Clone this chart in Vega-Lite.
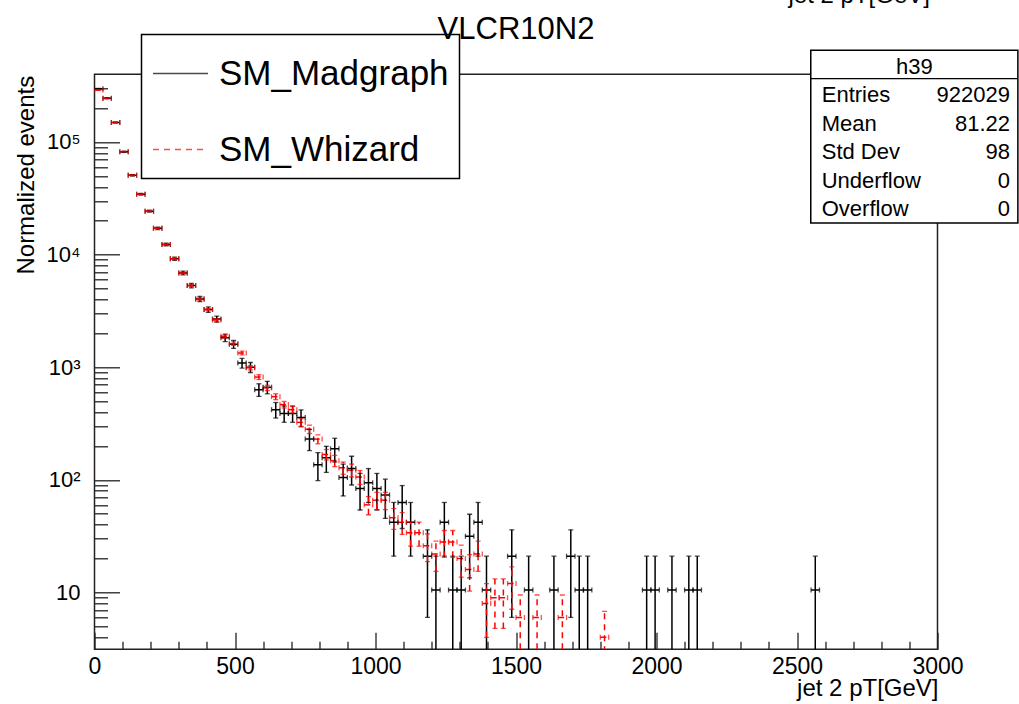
{
  "$schema": "https://vega.github.io/schema/vega-lite/v6.json",
  "autosize": {"type": "none"},
  "width": 843,
  "height": 575,
  "padding": {"left": 94.5, "top": 74.3, "right": 81.5, "bottom": 54.7},
  "background": "white",
  "title": {"text": "VLCR10N2", "fontSize": 31, "font": "Liberation Sans", "fontWeight": "normal", "color": "#000", "anchor": "middle", "frame": "group", "baseline": "alphabetic", "offset": -86.2},
  "config": {
    "view": {"stroke": "#222", "strokeWidth": 1.5},
    "axis": {"domain": false, "grid": false, "labelFont": "Liberation Sans", "titleFont": "Liberation Sans", "labelColor": "#000", "titleColor": "#000", "titleFontWeight": "normal", "tickColor": "#222", "tickWidth": 1.3},
    "legend": {"strokeWidth": 1.5},
    "text": {"font": "Liberation Sans", "color": "#000"}
  },
  "resolve": {"axis": {"x": "independent"}},
  "datasets": {
    "h": [
      {"s": "SM_Madgraph", "x0": 0, "x1": 30, "xc": 15, "v": 297000, "lo": 295234, "hi": 298766},
      {"s": "SM_Madgraph", "x0": 30, "x1": 60, "xc": 45, "v": 245000, "lo": 243396, "hi": 246604},
      {"s": "SM_Madgraph", "x0": 60, "x1": 90, "xc": 75, "v": 149000, "lo": 147749, "hi": 150251},
      {"s": "SM_Madgraph", "x0": 90, "x1": 120, "xc": 105, "v": 82000, "lo": 81072, "hi": 82928},
      {"s": "SM_Madgraph", "x0": 120, "x1": 150, "xc": 135, "v": 50600, "lo": 49871, "hi": 51329},
      {"s": "SM_Madgraph", "x0": 150, "x1": 180, "xc": 165, "v": 34400, "lo": 33799, "hi": 35001},
      {"s": "SM_Madgraph", "x0": 180, "x1": 210, "xc": 195, "v": 24300, "lo": 23795, "hi": 24805},
      {"s": "SM_Madgraph", "x0": 210, "x1": 240, "xc": 225, "v": 17100, "lo": 16676, "hi": 17524},
      {"s": "SM_Madgraph", "x0": 240, "x1": 270, "xc": 255, "v": 12300, "lo": 11941, "hi": 12659},
      {"s": "SM_Madgraph", "x0": 270, "x1": 300, "xc": 285, "v": 9200, "lo": 8889, "hi": 9511},
      {"s": "SM_Madgraph", "x0": 300, "x1": 330, "xc": 315, "v": 6870, "lo": 6601, "hi": 7139},
      {"s": "SM_Madgraph", "x0": 330, "x1": 360, "xc": 345, "v": 5310, "lo": 5074, "hi": 5546},
      {"s": "SM_Madgraph", "x0": 360, "x1": 390, "xc": 375, "v": 4040, "lo": 3834, "hi": 4246},
      {"s": "SM_Madgraph", "x0": 390, "x1": 420, "xc": 405, "v": 3250, "lo": 3065, "hi": 3435},
      {"s": "SM_Madgraph", "x0": 420, "x1": 450, "xc": 435, "v": 2680, "lo": 2512, "hi": 2848},
      {"s": "SM_Madgraph", "x0": 450, "x1": 480, "xc": 465, "v": 1830, "lo": 1691, "hi": 1969},
      {"s": "SM_Madgraph", "x0": 480, "x1": 510, "xc": 495, "v": 1600, "lo": 1470, "hi": 1730},
      {"s": "SM_Madgraph", "x0": 510, "x1": 540, "xc": 525, "v": 1090, "lo": 983, "hi": 1197},
      {"s": "SM_Madgraph", "x0": 540, "x1": 570, "xc": 555, "v": 1000, "lo": 898, "hi": 1102},
      {"s": "SM_Madgraph", "x0": 570, "x1": 600, "xc": 585, "v": 632, "lo": 551, "hi": 713},
      {"s": "SM_Madgraph", "x0": 600, "x1": 630, "xc": 615, "v": 665, "lo": 581, "hi": 749},
      {"s": "SM_Madgraph", "x0": 630, "x1": 660, "xc": 645, "v": 420, "lo": 354, "hi": 486},
      {"s": "SM_Madgraph", "x0": 660, "x1": 690, "xc": 675, "v": 388.5, "lo": 324.5, "hi": 452.5},
      {"s": "SM_Madgraph", "x0": 690, "x1": 720, "xc": 705, "v": 388.5, "lo": 324.5, "hi": 452.5},
      {"s": "SM_Madgraph", "x0": 720, "x1": 750, "xc": 735, "v": 357, "lo": 296, "hi": 418},
      {"s": "SM_Madgraph", "x0": 750, "x1": 780, "xc": 765, "v": 231, "lo": 182, "hi": 280},
      {"s": "SM_Madgraph", "x0": 780, "x1": 810, "xc": 795, "v": 136.5, "lo": 98.5, "hi": 174.5},
      {"s": "SM_Madgraph", "x0": 810, "x1": 840, "xc": 825, "v": 157.5, "lo": 116.5, "hi": 198.5},
      {"s": "SM_Madgraph", "x0": 840, "x1": 870, "xc": 855, "v": 189, "lo": 144, "hi": 234},
      {"s": "SM_Madgraph", "x0": 870, "x1": 900, "xc": 885, "v": 105, "lo": 72, "hi": 138},
      {"s": "SM_Madgraph", "x0": 900, "x1": 930, "xc": 915, "v": 126, "lo": 90, "hi": 162},
      {"s": "SM_Madgraph", "x0": 930, "x1": 960, "xc": 945, "v": 84, "lo": 54, "hi": 114},
      {"s": "SM_Madgraph", "x0": 960, "x1": 990, "xc": 975, "v": 94.5, "lo": 63, "hi": 126},
      {"s": "SM_Madgraph", "x0": 990, "x1": 1020, "xc": 1005, "v": 84, "lo": 54, "hi": 114},
      {"s": "SM_Madgraph", "x0": 1020, "x1": 1050, "xc": 1035, "v": 73.5, "lo": 45.5, "hi": 101.5},
      {"s": "SM_Madgraph", "x0": 1050, "x1": 1080, "xc": 1065, "v": 42, "lo": 21, "hi": 63},
      {"s": "SM_Madgraph", "x0": 1080, "x1": 1110, "xc": 1095, "v": 63, "lo": 37, "hi": 89},
      {"s": "SM_Madgraph", "x0": 1110, "x1": 1140, "xc": 1125, "v": 42, "lo": 21, "hi": 63},
      {"s": "SM_Madgraph", "x0": 1170, "x1": 1200, "xc": 1185, "v": 21, "lo": 6, "hi": 36},
      {"s": "SM_Madgraph", "x0": 1200, "x1": 1230, "xc": 1215, "v": 10.5, "lo": 0.5, "hi": 21},
      {"s": "SM_Madgraph", "x0": 1230, "x1": 1260, "xc": 1245, "v": 42, "lo": 21, "hi": 63},
      {"s": "SM_Madgraph", "x0": 1260, "x1": 1290, "xc": 1275, "v": 10.5, "lo": 0.5, "hi": 21},
      {"s": "SM_Madgraph", "x0": 1290, "x1": 1320, "xc": 1305, "v": 10.5, "lo": 0.5, "hi": 21},
      {"s": "SM_Madgraph", "x0": 1320, "x1": 1350, "xc": 1335, "v": 31.5, "lo": 13.5, "hi": 49.5},
      {"s": "SM_Madgraph", "x0": 1350, "x1": 1380, "xc": 1365, "v": 42, "lo": 21, "hi": 63},
      {"s": "SM_Madgraph", "x0": 1380, "x1": 1410, "xc": 1395, "v": 10.5, "lo": 0.5, "hi": 21},
      {"s": "SM_Madgraph", "x0": 1470, "x1": 1500, "xc": 1485, "v": 21, "lo": 6, "hi": 36},
      {"s": "SM_Madgraph", "x0": 1530, "x1": 1560, "xc": 1545, "v": 10.5, "lo": 0.5, "hi": 21},
      {"s": "SM_Madgraph", "x0": 1620, "x1": 1650, "xc": 1635, "v": 10.5, "lo": 0.5, "hi": 21},
      {"s": "SM_Madgraph", "x0": 1680, "x1": 1710, "xc": 1695, "v": 21, "lo": 6, "hi": 36},
      {"s": "SM_Madgraph", "x0": 1710, "x1": 1740, "xc": 1725, "v": 10.5, "lo": 0.5, "hi": 21},
      {"s": "SM_Madgraph", "x0": 1740, "x1": 1770, "xc": 1755, "v": 10.5, "lo": 0.5, "hi": 21},
      {"s": "SM_Madgraph", "x0": 1950, "x1": 1980, "xc": 1965, "v": 10.5, "lo": 0.5, "hi": 21},
      {"s": "SM_Madgraph", "x0": 1980, "x1": 2010, "xc": 1995, "v": 10.5, "lo": 0.5, "hi": 21},
      {"s": "SM_Madgraph", "x0": 2040, "x1": 2070, "xc": 2055, "v": 10.5, "lo": 0.5, "hi": 21},
      {"s": "SM_Madgraph", "x0": 2100, "x1": 2130, "xc": 2115, "v": 10.5, "lo": 0.5, "hi": 21},
      {"s": "SM_Madgraph", "x0": 2130, "x1": 2160, "xc": 2145, "v": 10.5, "lo": 0.5, "hi": 21},
      {"s": "SM_Madgraph", "x0": 2550, "x1": 2580, "xc": 2565, "v": 10.5, "lo": 0.5, "hi": 21},
      {"s": "SM_Whizard", "x0": 0, "x1": 30, "xc": 15, "v": 290000, "lo": 289238, "hi": 290762},
      {"s": "SM_Whizard", "x0": 30, "x1": 60, "xc": 45, "v": 243000, "lo": 242303, "hi": 243697},
      {"s": "SM_Whizard", "x0": 60, "x1": 90, "xc": 75, "v": 149000, "lo": 148454, "hi": 149546},
      {"s": "SM_Whizard", "x0": 90, "x1": 120, "xc": 105, "v": 82000, "lo": 81595, "hi": 82405},
      {"s": "SM_Whizard", "x0": 120, "x1": 150, "xc": 135, "v": 50600, "lo": 50282, "hi": 50918},
      {"s": "SM_Whizard", "x0": 150, "x1": 180, "xc": 165, "v": 34400, "lo": 34138, "hi": 34662},
      {"s": "SM_Whizard", "x0": 180, "x1": 210, "xc": 195, "v": 24300, "lo": 24080, "hi": 24520},
      {"s": "SM_Whizard", "x0": 210, "x1": 240, "xc": 225, "v": 17100, "lo": 16915, "hi": 17285},
      {"s": "SM_Whizard", "x0": 240, "x1": 270, "xc": 255, "v": 12300, "lo": 12143, "hi": 12457},
      {"s": "SM_Whizard", "x0": 270, "x1": 300, "xc": 285, "v": 9200, "lo": 9064, "hi": 9336},
      {"s": "SM_Whizard", "x0": 300, "x1": 330, "xc": 315, "v": 6870, "lo": 6753, "hi": 6987},
      {"s": "SM_Whizard", "x0": 330, "x1": 360, "xc": 345, "v": 5310, "lo": 5207, "hi": 5413},
      {"s": "SM_Whizard", "x0": 360, "x1": 390, "xc": 375, "v": 4040, "lo": 3950, "hi": 4130},
      {"s": "SM_Whizard", "x0": 390, "x1": 420, "xc": 405, "v": 3250, "lo": 3169, "hi": 3331},
      {"s": "SM_Whizard", "x0": 420, "x1": 450, "xc": 435, "v": 2620, "lo": 2548, "hi": 2692},
      {"s": "SM_Whizard", "x0": 450, "x1": 480, "xc": 465, "v": 1880, "lo": 1819, "hi": 1941},
      {"s": "SM_Whizard", "x0": 480, "x1": 510, "xc": 495, "v": 1620, "lo": 1563, "hi": 1677},
      {"s": "SM_Whizard", "x0": 510, "x1": 540, "xc": 525, "v": 1340, "lo": 1288, "hi": 1392},
      {"s": "SM_Whizard", "x0": 540, "x1": 570, "xc": 555, "v": 990, "lo": 946, "hi": 1034},
      {"s": "SM_Whizard", "x0": 570, "x1": 600, "xc": 585, "v": 818, "lo": 778, "hi": 858},
      {"s": "SM_Whizard", "x0": 600, "x1": 630, "xc": 615, "v": 656, "lo": 620, "hi": 692},
      {"s": "SM_Whizard", "x0": 630, "x1": 660, "xc": 645, "v": 548, "lo": 515, "hi": 581},
      {"s": "SM_Whizard", "x0": 660, "x1": 690, "xc": 675, "v": 466, "lo": 435, "hi": 497},
      {"s": "SM_Whizard", "x0": 690, "x1": 720, "xc": 705, "v": 420, "lo": 391, "hi": 449},
      {"s": "SM_Whizard", "x0": 720, "x1": 750, "xc": 735, "v": 324, "lo": 299, "hi": 349},
      {"s": "SM_Whizard", "x0": 750, "x1": 780, "xc": 765, "v": 282, "lo": 258, "hi": 306},
      {"s": "SM_Whizard", "x0": 780, "x1": 810, "xc": 795, "v": 230, "lo": 209, "hi": 251},
      {"s": "SM_Whizard", "x0": 810, "x1": 840, "xc": 825, "v": 168, "lo": 150, "hi": 186},
      {"s": "SM_Whizard", "x0": 840, "x1": 870, "xc": 855, "v": 148, "lo": 131, "hi": 165},
      {"s": "SM_Whizard", "x0": 870, "x1": 900, "xc": 885, "v": 128, "lo": 112, "hi": 144},
      {"s": "SM_Whizard", "x0": 900, "x1": 930, "xc": 915, "v": 122, "lo": 106, "hi": 138},
      {"s": "SM_Whizard", "x0": 930, "x1": 960, "xc": 945, "v": 106, "lo": 91, "hi": 121},
      {"s": "SM_Whizard", "x0": 960, "x1": 990, "xc": 975, "v": 60, "lo": 49, "hi": 71},
      {"s": "SM_Whizard", "x0": 990, "x1": 1020, "xc": 1005, "v": 66, "lo": 54.5, "hi": 77.5},
      {"s": "SM_Whizard", "x0": 1020, "x1": 1050, "xc": 1035, "v": 66, "lo": 54.5, "hi": 77.5},
      {"s": "SM_Whizard", "x0": 1050, "x1": 1080, "xc": 1065, "v": 46, "lo": 36.4, "hi": 55.6},
      {"s": "SM_Whizard", "x0": 1080, "x1": 1110, "xc": 1095, "v": 42, "lo": 32.8, "hi": 51.2},
      {"s": "SM_Whizard", "x0": 1110, "x1": 1140, "xc": 1125, "v": 34, "lo": 25.8, "hi": 42.2},
      {"s": "SM_Whizard", "x0": 1140, "x1": 1170, "xc": 1155, "v": 34, "lo": 25.8, "hi": 42.2},
      {"s": "SM_Whizard", "x0": 1170, "x1": 1200, "xc": 1185, "v": 26, "lo": 18.8, "hi": 33.2},
      {"s": "SM_Whizard", "x0": 1200, "x1": 1230, "xc": 1215, "v": 22, "lo": 15.4, "hi": 28.6},
      {"s": "SM_Whizard", "x0": 1230, "x1": 1260, "xc": 1245, "v": 28, "lo": 20.5, "hi": 35.5},
      {"s": "SM_Whizard", "x0": 1260, "x1": 1290, "xc": 1275, "v": 28, "lo": 20.5, "hi": 35.5},
      {"s": "SM_Whizard", "x0": 1290, "x1": 1320, "xc": 1305, "v": 20, "lo": 13.7, "hi": 26.3},
      {"s": "SM_Whizard", "x0": 1320, "x1": 1350, "xc": 1335, "v": 16, "lo": 10.3, "hi": 21.7},
      {"s": "SM_Whizard", "x0": 1350, "x1": 1380, "xc": 1365, "v": 22, "lo": 15.4, "hi": 28.6},
      {"s": "SM_Whizard", "x0": 1380, "x1": 1410, "xc": 1395, "v": 8, "lo": 4, "hi": 12},
      {"s": "SM_Whizard", "x0": 1410, "x1": 1440, "xc": 1425, "v": 9, "lo": 4.8, "hi": 13.2},
      {"s": "SM_Whizard", "x0": 1440, "x1": 1470, "xc": 1455, "v": 9, "lo": 4.8, "hi": 13.2},
      {"s": "SM_Whizard", "x0": 1470, "x1": 1500, "xc": 1485, "v": 12, "lo": 7.1, "hi": 16.9},
      {"s": "SM_Whizard", "x0": 1500, "x1": 1530, "xc": 1515, "v": 6, "lo": 2.5, "hi": 9.5},
      {"s": "SM_Whizard", "x0": 1560, "x1": 1590, "xc": 1575, "v": 6, "lo": 2.5, "hi": 9.5},
      {"s": "SM_Whizard", "x0": 1650, "x1": 1680, "xc": 1665, "v": 6, "lo": 2.5, "hi": 9.5},
      {"s": "SM_Whizard", "x0": 1800, "x1": 1830, "xc": 1815, "v": 4, "lo": 1.2, "hi": 6.8}
    ]
  },
  "data": {"name": "h"},
  "layer": [
    {
      "mark": {"type": "rule", "clip": true, "strokeWidth": 1.5},
      "encoding": {
        "x": {"field": "x0", "type": "quantitative", "scale": {"domain": [0, 3000], "nice": false, "zero": false},
          "axis": {"orient": "bottom", "title": "jet 2 pT[GeV]", "titleFontSize": 24, "titleAlign": "right", "titleAnchor": "end", "titleBaseline": "alphabetic", "titleX": 843.5, "titleY": 46,
            "values": [0, 500, 1000, 1500, 2000, 2500, 3000],
            "format": "d", "labelFontSize": 23, "labelPadding": 22.7, "tickSize": -17, "labelFlush": false, "labelOverlap": false}},
        "x2": {"field": "x1"},
        "y": {"field": "v", "type": "quantitative", "scale": {"type": "log", "domain": [3.13, 399000], "nice": false},
          "axis": {"title": "Normalized events", "titleFontSize": 24, "titleAngle": -90, "titleAlign": "right", "titleAnchor": "end", "titleBaseline": "alphabetic", "titleX": -61.5, "titleY": 1,
            "values": [4,5,6,7,8,9,10,20,30,40,50,60,70,80,90,100,200,300,400,500,600,700,800,900,1000,2000,3000,4000,5000,6000,7000,8000,9000,10000,20000,30000,40000,50000,60000,70000,80000,90000,100000,200000,300000],
            "labelExpr": "datum.value == 10 ? '10' : datum.value == 100 ? '10²' : datum.value == 1000 ? '10³' : datum.value == 10000 ? '10⁴' : datum.value == 100000 ? '10⁵' : ''",
            "labelFontSize": 22, "labelPadding": 39.5, "tickSize": -25,
            "tickDash": {"condition": {"test": "indexof([10,100,1000,10000,100000], datum.value) < 0", "value": [13, 100]}, "value": []},
            "labelOverlap": "greedy"}},
        "color": {"field": "s", "type": "nominal", "scale": {"domain": ["SM_Madgraph", "SM_Whizard"], "range": ["#000000", "#ff0000"]},
          "legend": {"title": null, "orient": "none", "legendX": 47, "legendY": -39.8, "direction": "vertical", "fillColor": "#ffffff", "strokeColor": "#000000", "padding": 10.5, "symbolType": "stroke", "symbolSize": 3025, "symbolStrokeWidth": 1.5, "labelFontSize": 35, "labelFont": "Liberation Sans", "labelColor": "#000", "labelOffset": 10, "labelLimit": 500, "rowPadding": 29}},
        "strokeDash": {"field": "s", "type": "nominal", "scale": {"domain": ["SM_Madgraph", "SM_Whizard"], "range": [[1, 0], [6, 5]]}}
      }
    },
    {
      "mark": {"type": "rule", "clip": true, "strokeWidth": 1.5},
      "encoding": {
        "x": {"field": "xc", "type": "quantitative",
          "axis": {"orient": "bottom", "title": null, "labels": false, "tickSize": -8,
            "values": [100,200,300,400,600,700,800,900,1100,1200,1300,1400,1600,1700,1800,1900,2100,2200,2300,2400,2600,2700,2800,2900]}},
        "y": {"field": "lo", "type": "quantitative"},
        "y2": {"field": "hi"},
        "color": {"field": "s", "type": "nominal"},
        "strokeDash": {"field": "s", "type": "nominal"}
      }
    },
    {
      "mark": {"type": "tick", "orient": "vertical", "size": 5, "thickness": 1.3, "clip": true},
      "encoding": {
        "x": {"field": "x0", "type": "quantitative", "axis": null},
        "y": {"field": "v", "type": "quantitative"},
        "color": {"field": "s", "type": "nominal"}
      }
    },
    {
      "mark": {"type": "tick", "orient": "vertical", "size": 5, "thickness": 1.3, "clip": true},
      "encoding": {
        "x": {"field": "x1", "type": "quantitative", "axis": null},
        "y": {"field": "v", "type": "quantitative"},
        "color": {"field": "s", "type": "nominal"}
      }
    },
    {
      "mark": {"type": "tick", "orient": "horizontal", "size": 5, "thickness": 1.3, "clip": true},
      "encoding": {
        "x": {"field": "xc", "type": "quantitative", "axis": null},
        "y": {"field": "lo", "type": "quantitative"},
        "color": {"field": "s", "type": "nominal"}
      }
    },
    {
      "mark": {"type": "tick", "orient": "horizontal", "size": 5, "thickness": 1.3, "clip": true},
      "encoding": {
        "x": {"field": "xc", "type": "quantitative", "axis": null},
        "y": {"field": "hi", "type": "quantitative"},
        "color": {"field": "s", "type": "nominal"}
      }
    },
    {
      "data": {"values": [{}]},
      "mark": {"type": "rect", "fill": "#ffffff", "stroke": "#000000", "strokeWidth": 1.5},
      "encoding": {"x": {"datum": 2549, "axis": null}, "x2": {"datum": 3286}, "y": {"datum": 652000}, "y2": {"datum": 19080}}
    },
    {
      "data": {"values": [{}]},
      "mark": {"type": "rule", "stroke": "#000000", "strokeWidth": 1.3},
      "encoding": {"x": {"datum": 2549, "axis": null}, "x2": {"datum": 3286}, "y": {"datum": 365600}}
    },
    {
      "data": {"values": [{}]},
      "mark": {"type": "text", "fontSize": 22, "align": "center", "baseline": "alphabetic"},
      "encoding": {"x": {"datum": 2918, "axis": null}, "y": {"datum": 405000}, "text": {"value": "h39"}}
    },
    {
      "data": {"values": [{}]},
      "mark": {"type": "text", "fontSize": 22, "align": "left", "baseline": "alphabetic", "lineHeight": 28.5},
      "encoding": {"x": {"datum": 2588, "axis": null}, "y": {"datum": 225200}, "text": {"value": ["Entries", "Mean", "Std Dev", "Underflow", "Overflow"]}}
    },
    {
      "data": {"values": [{}]},
      "mark": {"type": "text", "fontSize": 22, "align": "right", "baseline": "alphabetic", "lineHeight": 28.5},
      "encoding": {"x": {"datum": 3258, "axis": null}, "y": {"datum": 225200}, "text": {"value": ["922029", "81.22", "98", "0", "0"]}}
    },
    {
      "data": {"values": [{}]},
      "mark": {"type": "text", "fontSize": 24, "align": "right", "baseline": "alphabetic"},
      "encoding": {"x": {"datum": 2973, "axis": null}, "y": {"datum": 1705000}, "text": {"value": "jet 2 pT[GeV]"}}
    }
  ]
}
